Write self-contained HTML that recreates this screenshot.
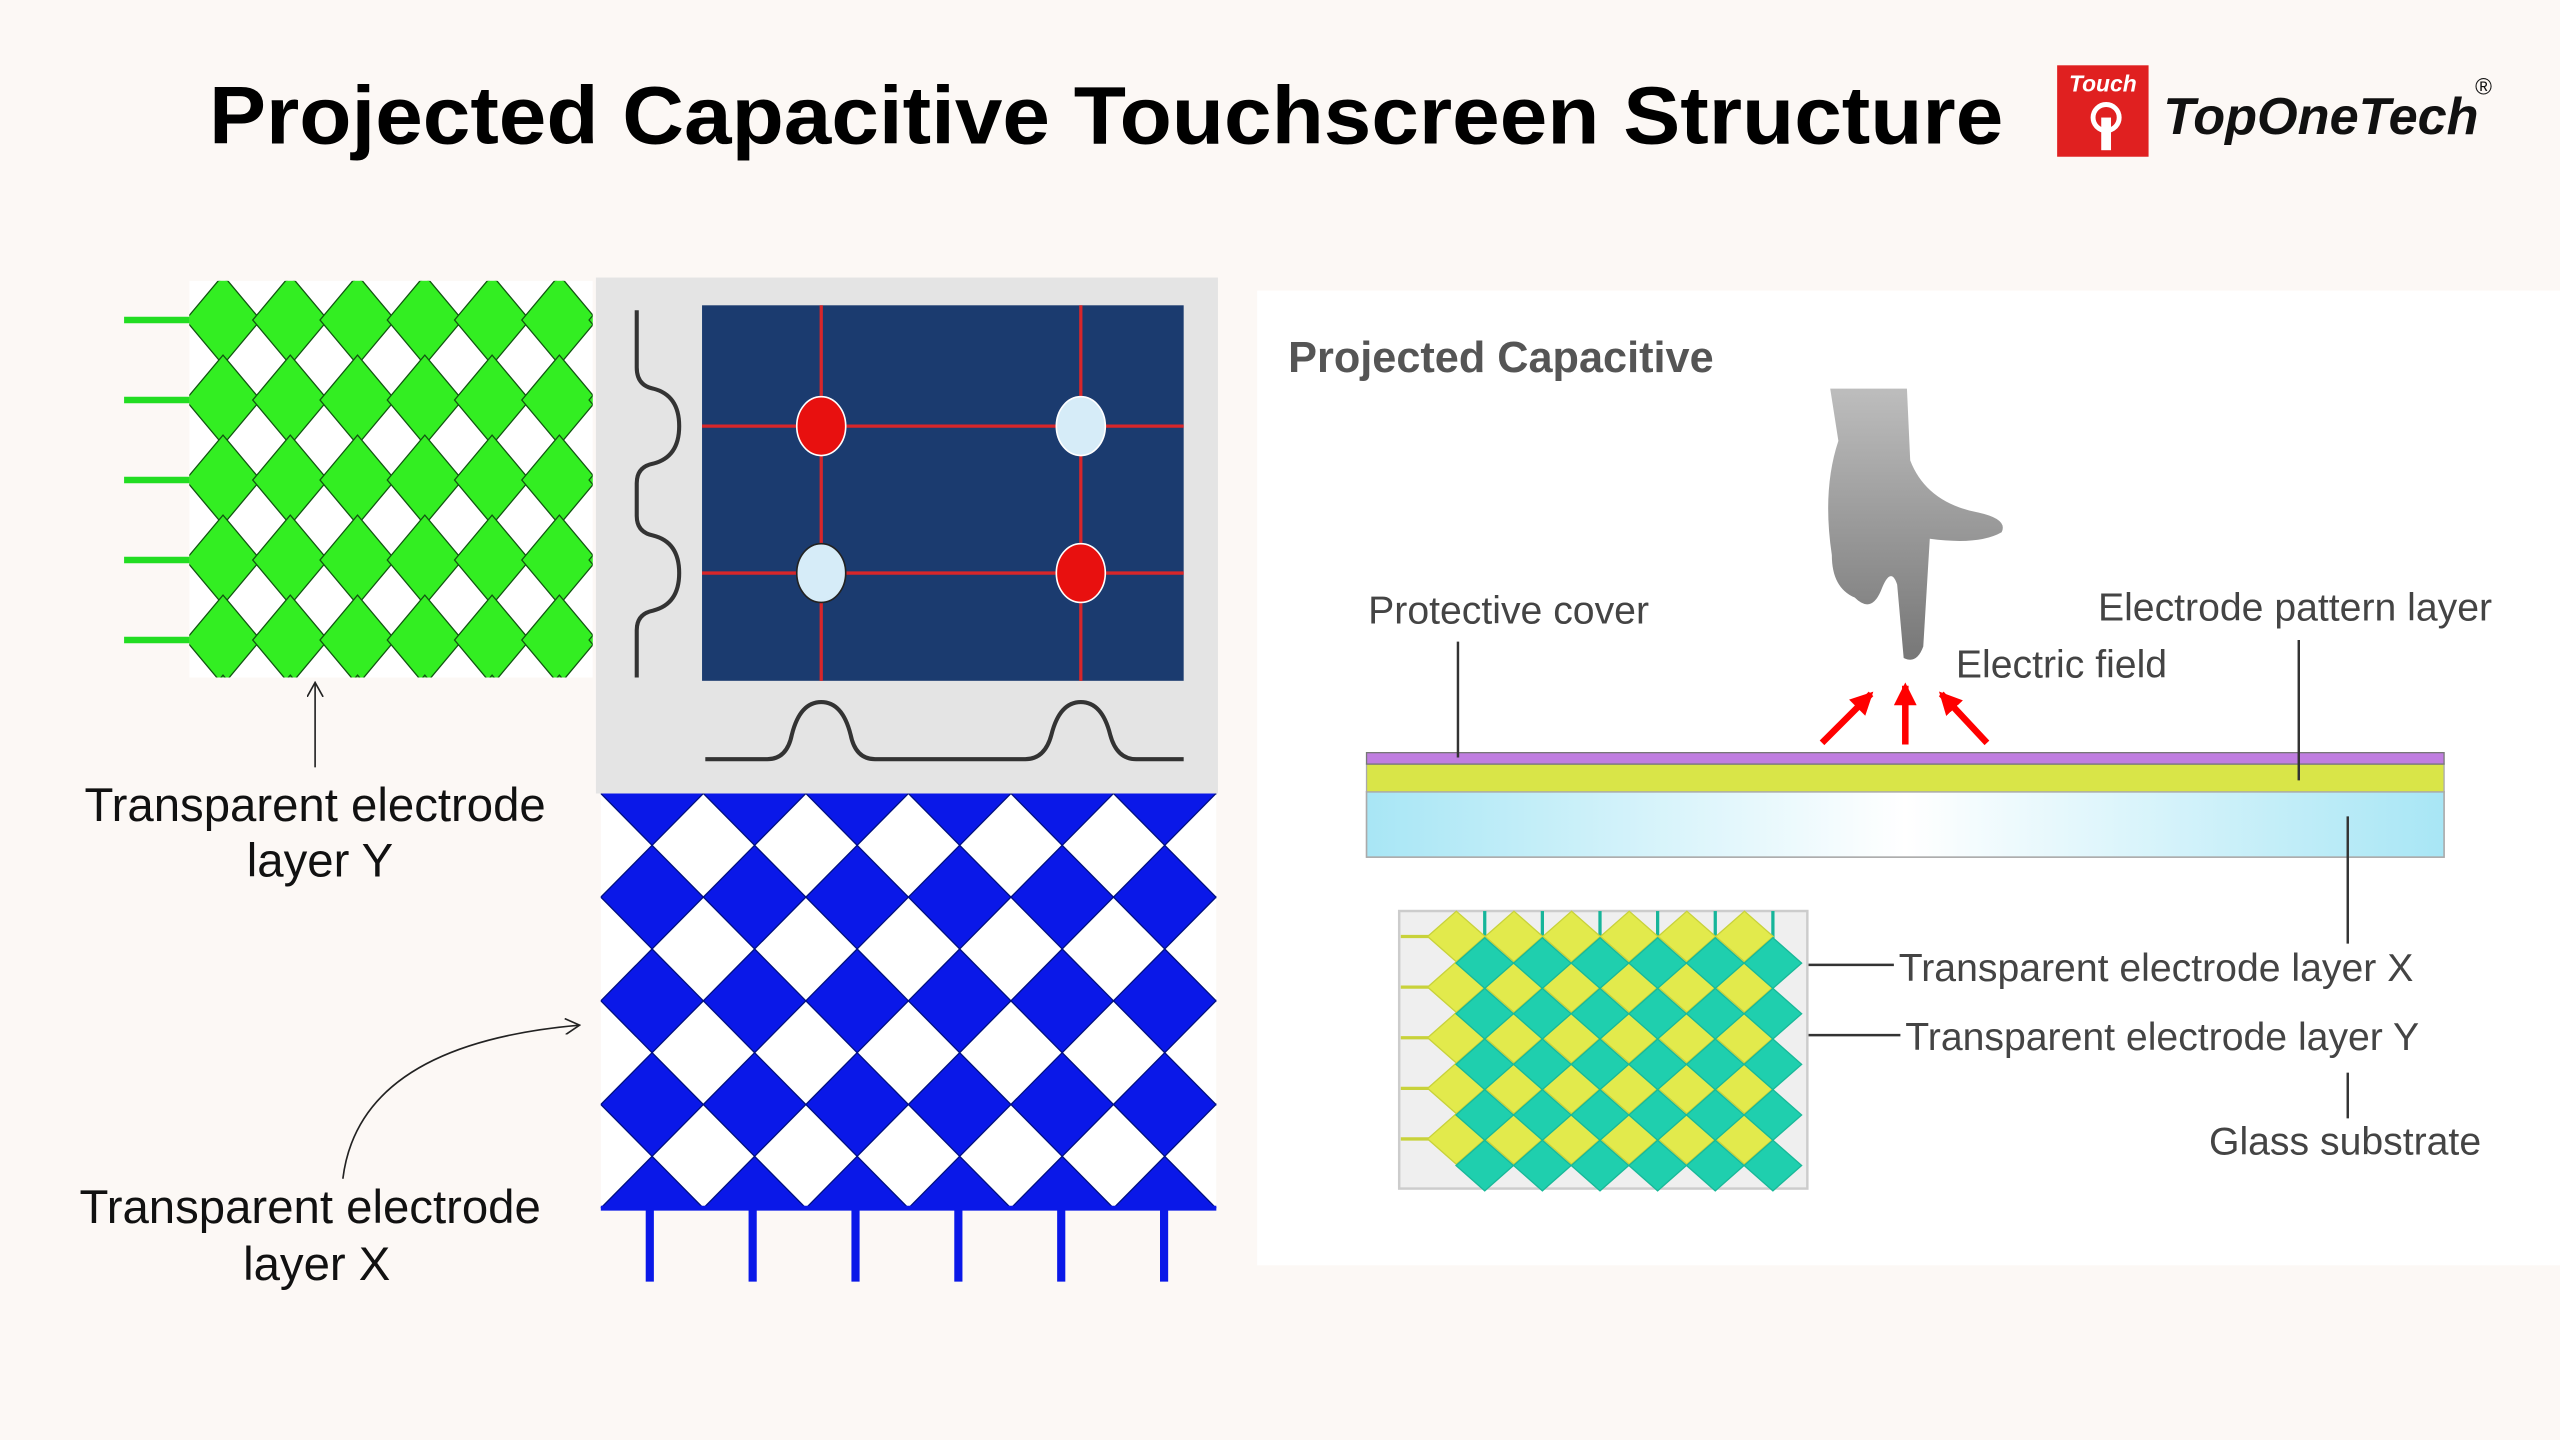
<!DOCTYPE html>
<html><head><meta charset="utf-8"><style>
html,body{margin:0;padding:0;background:#fcf8f5;}
svg{display:block;}
text{font-family:"Liberation Sans",sans-serif;}
</style></head><body>
<svg id="s" width="2560" height="1440" viewBox="0 0 1568 882" xmlns="http://www.w3.org/2000/svg">
<defs>
<clipPath id="cg"><rect x="116" y="172" width="247" height="243"/></clipPath>
<clipPath id="cb"><rect x="368" y="486" width="377" height="254"/></clipPath>
<linearGradient id="fg" x1="0" y1="0" x2="0" y2="1"><stop offset="0" stop-color="#bdbdbd"/><stop offset="1" stop-color="#777"/></linearGradient>
<linearGradient id="gl" x1="0" y1="0" x2="1" y2="0"><stop offset="0" stop-color="#a8e6f5"/><stop offset="0.5" stop-color="#ffffff"/><stop offset="1" stop-color="#a8e6f5"/></linearGradient>
<marker id="ar" markerWidth="10" markerHeight="10" refX="8" refY="5" orient="auto" markerUnits="userSpaceOnUse"><path d="M0,0 L9,5 L0,10" fill="none" stroke="#222" stroke-width="1"/></marker>
<marker id="rr" markerWidth="14" markerHeight="14" refX="12" refY="7" orient="auto" markerUnits="userSpaceOnUse"><path d="M0,0 L14,7 L0,14 Z" fill="#f00"/></marker>
</defs>
<rect width="1568" height="882" fill="#fcf8f5"/>
<!-- title -->
<text x="128" y="88" font-size="50" font-weight="bold" fill="#000" textLength="1099" lengthAdjust="spacingAndGlyphs">Projected Capacitive Touchscreen Structure</text>
<rect x="1260" y="40" width="56" height="56" fill="#e02020"/>
<text x="1288" y="56" font-size="14" font-weight="bold" font-style="italic" fill="#fff" text-anchor="middle">Touch</text>
<circle cx="1290" cy="72" r="8" fill="none" stroke="#fff" stroke-width="3"/>
<rect x="1287" y="72" width="6" height="20" fill="#fff"/>
<text x="1325" y="82" font-size="32" font-weight="bold" font-style="italic" fill="#111">TopOneTech</text>
<text x="1516" y="58" font-size="14" fill="#111">®</text>
<!-- green grid -->
<g id="green" clip-path="url(#cg)"><rect x="116" y="172" width="247" height="243" fill="#fff"/></g>
<g stroke="#22dd22" stroke-width="4">
<line x1="76" y1="196" x2="116" y2="196"/><line x1="76" y1="245" x2="116" y2="245"/><line x1="76" y1="294" x2="116" y2="294"/><line x1="76" y1="343" x2="116" y2="343"/><line x1="76" y1="392" x2="116" y2="392"/>
</g>
<!-- middle panel -->
<rect x="365" y="170" width="381" height="316" fill="#e4e4e4"/>
<rect x="430" y="187" width="295" height="230" fill="#1b3b6f"/>
<g stroke="#d8262a" stroke-width="2">
<line x1="430" y1="261" x2="725" y2="261"/><line x1="430" y1="351" x2="725" y2="351"/>
<line x1="503" y1="187" x2="503" y2="417"/><line x1="662" y1="187" x2="662" y2="417"/>
</g>
<ellipse cx="503" cy="261" rx="15" ry="18" fill="#e8100f" stroke="#fff" stroke-width="1"/>
<ellipse cx="662" cy="261" rx="15" ry="18" fill="#d6ecf8" stroke="#fff" stroke-width="1"/>
<ellipse cx="503" cy="351" rx="15" ry="18" fill="#d6ecf8" stroke="#222" stroke-width="1"/>
<ellipse cx="662" cy="351" rx="15" ry="18" fill="#e8100f" stroke="#fff" stroke-width="1"/>
<path d="M390,190 L390,225 Q390,236 400,238 Q416,242 416,261 Q416,280 400,284 Q390,286 390,296 L390,316 Q390,326 400,328 Q416,332 416,351 Q416,370 400,374 Q390,376 390,386 L390,415" fill="none" stroke="#333" stroke-width="2.5"/>
<path d="M432,465 L470,465 Q482,465 485,450 Q490,430 503,430 Q516,430 521,450 Q524,465 536,465 L628,465 Q640,465 644,450 Q649,430 662,430 Q675,430 680,450 Q684,465 696,465 L725,465" fill="none" stroke="#333" stroke-width="2.5"/>
<!-- blue grid -->
<g id="blue" clip-path="url(#cb)"><rect x="368" y="486" width="377" height="254" fill="#fff"/></g>
<line x1="368" y1="740" x2="745" y2="740" stroke="#0a18e8" stroke-width="3"/>
<g stroke="#0a18e8" stroke-width="5">
<line x1="398" y1="740" x2="398" y2="785"/><line x1="461" y1="740" x2="461" y2="785"/><line x1="524" y1="740" x2="524" y2="785"/><line x1="587" y1="740" x2="587" y2="785"/><line x1="650" y1="740" x2="650" y2="785"/><line x1="713" y1="740" x2="713" y2="785"/>
</g>
<!-- left labels -->
<line x1="193" y1="470" x2="193" y2="419" stroke="#222" stroke-width="1" marker-end="url(#ar)"/>
<text x="193" y="503" font-size="29" fill="#111" text-anchor="middle">Transparent electrode</text>
<text x="196" y="537" font-size="29" fill="#111" text-anchor="middle">layer Y</text>
<path d="M210,722 Q220,640 354,628" fill="none" stroke="#222" stroke-width="1" marker-end="url(#ar)"/>
<text x="190" y="749" font-size="29" fill="#111" text-anchor="middle">Transparent electrode</text>
<text x="194" y="784" font-size="29" fill="#111" text-anchor="middle">layer X</text>
<!-- right panel -->
<rect x="770" y="178" width="798" height="597" fill="#fff"/>
<text x="789" y="228" font-size="26.5" font-weight="bold" fill="#555">Projected Capacitive</text>
<path d="M1121,238 L1168,238 L1170,282 Q1180,308 1212,314 Q1230,318 1226,326 Q1212,334 1182,330 L1178,396 Q1174,407 1166,403 L1162,358 Q1158,346 1152,362 Q1146,376 1136,366 Q1122,360 1122,340 Q1116,300 1126,270 Z" fill="url(#fg)"/>
<g stroke="#f00" stroke-width="4">
<line x1="1116" y1="455" x2="1146" y2="425" marker-end="url(#rr)"/>
<line x1="1167" y1="456" x2="1167" y2="420" marker-end="url(#rr)"/>
<line x1="1217" y1="455" x2="1189" y2="425" marker-end="url(#rr)"/>
</g>
<rect x="837" y="485" width="660" height="40" fill="url(#gl)" stroke="#aaa" stroke-width="1"/>
<rect x="837" y="468" width="660" height="17" fill="#d9e548" stroke="#aaa" stroke-width="0.8"/>
<rect x="837" y="461" width="660" height="7" fill="#c07ee0" stroke="#777" stroke-width="0.8"/>
<g font-size="24" fill="#444">
<text x="838" y="382">Protective cover</text>
<text x="1285" y="380">Electrode pattern layer</text>
<text x="1198" y="415">Electric field</text>
<text x="1163" y="601">Transparent electrode layer X</text>
<text x="1167" y="643">Transparent electrode layer Y</text>
<text x="1353" y="707">Glass substrate</text>
</g>
<g stroke="#333" stroke-width="1.5">
<line x1="893" y1="393" x2="893" y2="464"/>
<line x1="1408" y1="392" x2="1408" y2="478"/>
<line x1="1438" y1="500" x2="1438" y2="578"/>
<line x1="1090" y1="591" x2="1160" y2="591"/>
<line x1="1068" y1="634" x2="1164" y2="634"/>
<line x1="1438" y1="657" x2="1438" y2="685"/>
</g>
<rect x="857" y="558" width="250" height="170" fill="#efefef" stroke="#ccc" stroke-width="1.5"/>
<g id="rg"></g>
<script>
var NS="http://www.w3.org/2000/svg";
function dia(g,cx,cy,a,b,fill,stroke,sw){var p=document.createElementNS(NS,"polygon");p.setAttribute("points",(cx-a)+","+cy+" "+cx+","+(cy-b)+" "+(cx+a)+","+cy+" "+cx+","+(cy+b));p.setAttribute("fill",fill);if(stroke){p.setAttribute("stroke",stroke);p.setAttribute("stroke-width",sw);}g.appendChild(p);}
var g=document.getElementById("green");
for(var j=-1;j<12;j++)for(var i=-1;i<14;i++){if((i+j)%2)continue;var x=116+20.6*i,y=196+24.5*(j-1);if(Math.abs(j%2)==1){dia(g,x,y,23,27.5,"#33ee22","#115511",0.8);}}
for(var j=-1;j<12;j++)for(var i=-1;i<14;i++){if((i+j)%2)continue;var x=116+20.6*i,y=196+24.5*(j-1);if(j%2==0){dia(g,x,y,13,16,"#fff",null,0);}}
var b=document.getElementById("blue");
for(var j=0;j<=8;j+=2)for(var i=-1;i<=13;i+=2){dia(b,368+31.4*i,486+31.75*j,31.4,31.75,"#0a18e8","#001080",0.8);}
var r=document.getElementById("rg");
for(var k=0;k<6;k++){var l=document.createElementNS(NS,"line");l.setAttribute("x1",909.4+35.3*k);l.setAttribute("x2",909.4+35.3*k);l.setAttribute("y1",558);l.setAttribute("y2",575);l.setAttribute("stroke","#16b59a");l.setAttribute("stroke-width","2");r.appendChild(l);}
for(var j=0;j<5;j++){var y=573.6+31*j;var l=document.createElementNS(NS,"line");l.setAttribute("x1",858);l.setAttribute("x2",876);l.setAttribute("y1",y);l.setAttribute("y2",y);l.setAttribute("stroke","#c8d23a");l.setAttribute("stroke-width","2");r.appendChild(l);
for(var i=0;i<6;i++)dia(r,892+35.3*i,y,17.6,15.5,"#e2ea4c","#c8d23a",0.8);}
for(var j=0;j<5;j++)for(var i=0;i<6;i++)dia(r,909.4+35.3*i,589.9+31*j,17.6,15.5,"#1fcfae","#18b898",0.8);
</script>
</svg>
</body></html>
